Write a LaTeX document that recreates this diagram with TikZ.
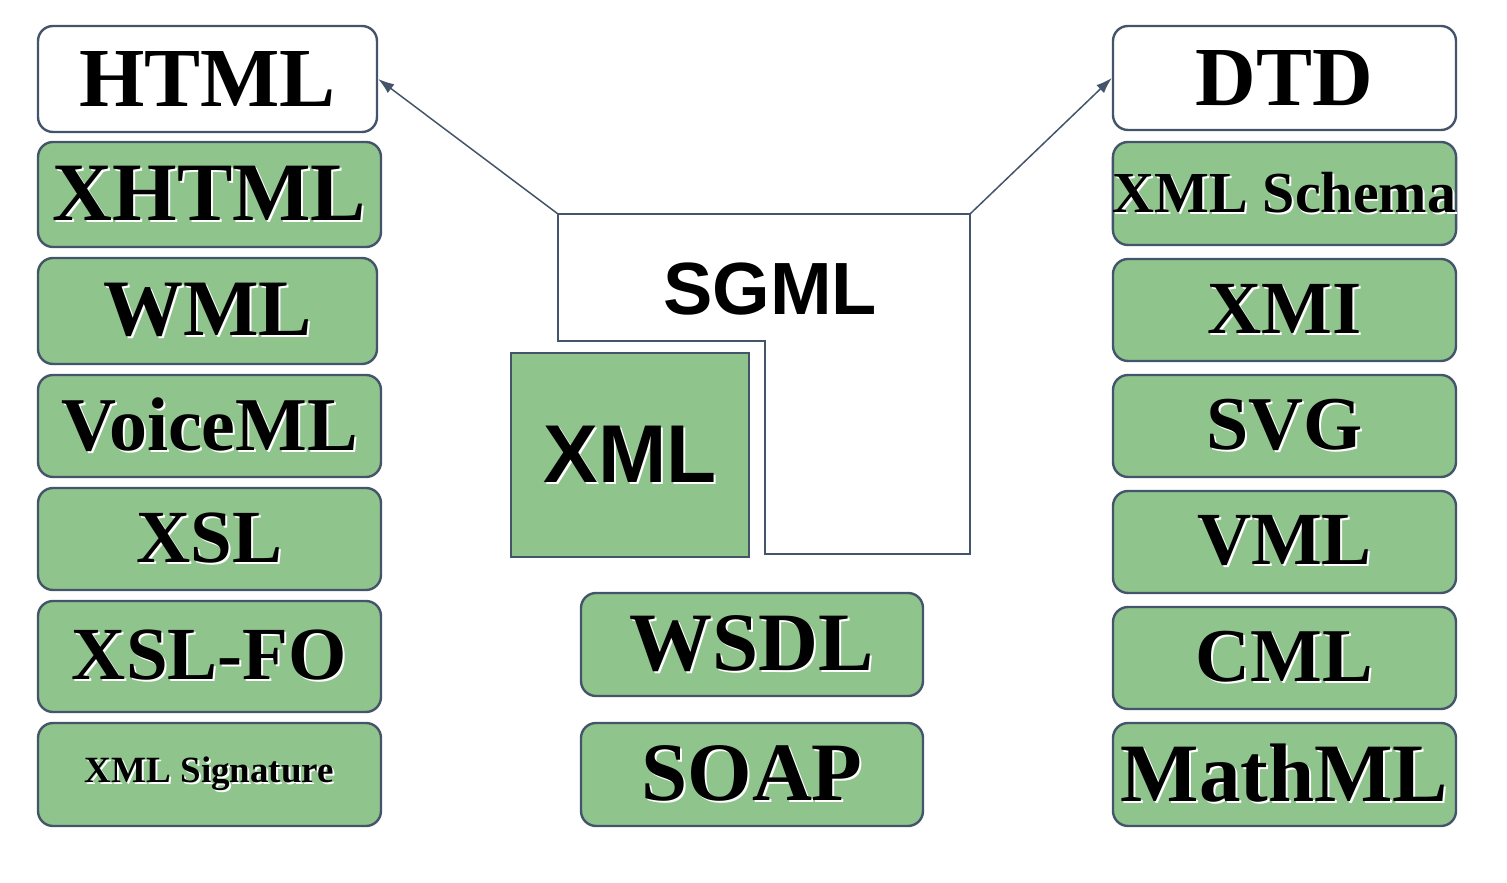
\documentclass[tikz,border=0pt]{standalone}
\usepackage{fontspec}
\setmainfont{Liberation Serif}
\newfontfamily\arialfont{Liberation Sans}
\usetikzlibrary{arrows.meta}
\definecolor{xmlgreen}{HTML}{8FC48C}
\definecolor{edgegray}{HTML}{44546A}
\newcommand{\shd}[1]{\leavevmode\rlap{\kern2pt\raisebox{-2pt}{\color{white}#1}}#1}
\newcommand{\fs}[1]{\fontsize{#1}{#1}\selectfont\bfseries}

\begin{document}
\begin{tikzpicture}[x=1pt,y=1pt,
  lang/.style={draw=edgegray,line width=2.4pt,rounded corners=15pt,fill=xmlgreen,
    minimum width=343pt,minimum height=103pt,inner sep=0pt},
  plain/.style={lang,fill=white},
  link/.style={edgegray,line width=1.5pt,-{Latex[length=16pt,width=11pt]}}]
  \useasboundingbox (0,0) rectangle (1507,883);

  %left column
  \node[plain,minimum width=339pt,minimum height=106pt] (html) at (207.5,804) {\fs{84}HTML};
  \node[lang,minimum height=105pt] (xhtml) at (209.5,688.5) {\fs{83}\shd{XHTML}};
  \node[lang,minimum width=339pt,minimum height=106pt] (wml) at (207.5,572) {\fs{80}\shd{WML}};
  \node[lang,minimum height=102pt] (voiceml) at (209.5,457) {\fs{76}\shd{VoiceML}};
  \node[lang,minimum height=102pt] (xsl) at (209.5,344) {\fs{75}\shd{XSL}};
  \node[lang,minimum height=111pt] (xslfo) at (209.5,226.5) {\fs{75}\shd{XSL-FO}};
  \node[lang] (xmlsig) at (209.5,108.5) {\fs{37}\shd{XML Signature}};

  %right column
  \node[plain,minimum height=104pt] (dtd) at (1284.5,805) {\fs{84}DTD};
  \node[lang] (schema) at (1284.5,689.5) {\fs{58}\shd{XML Schema}};
  \node[lang,minimum height=102pt] (xmi) at (1284.5,573) {\fs{75}\shd{XMI}};
  \node[lang,minimum height=102pt] (svg) at (1284.5,457) {\fs{76}\shd{SVG}};
  \node[lang,minimum height=102pt] (vml) at (1284.5,341) {\fs{75}\shd{VML}};
  \node[lang,minimum height=102pt] (cml) at (1284.5,225) {\fs{76}\shd{CML}};
  \node[lang] (mathml) at (1284.5,108.5) {\fs{83}\shd{MathML}};

  %middle column
  \node[lang,minimum width=342pt] (wsdl) at (752,238.5) {\fs{83}\shd{WSDL}};
  \node[lang,minimum width=342pt] (soap) at (752,108.5) {\fs{83}\shd{SOAP}};

  %SGML outline with XML inside
  \draw[edgegray,line width=2.4pt] (558,669) -- (970,669) -- (970,329) -- (765,329)
    -- (765,542) -- (558,542) -- cycle;
  \coordinate (sgmlnw) at (558,669);
  \coordinate (sgmlne) at (970,669);
  \node (sgml) at (770,594) {\arialfont\fs{74}SGML};
  \node[draw=edgegray,line width=2.4pt,fill=xmlgreen,minimum width=238pt,
    minimum height=204pt,inner sep=0pt] (xml) at (630,428) {\arialfont\fs{82}\shd{XML}};

  \draw[link] (sgmlnw) -- (html.east);
  \draw[link] (sgmlne) -- (dtd.west);
\end{tikzpicture}
\end{document}
